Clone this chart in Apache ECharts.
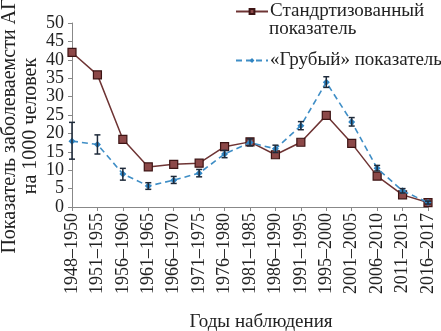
<!DOCTYPE html>
<html>
<head>
<meta charset="utf-8">
<script src="https://cdn.jsdelivr.net/npm/echarts@6/dist/echarts.min.js"></script>
<style>
  html, body { margin: 0; padding: 0; background: #fff; }
  #chart { width: 441px; height: 331px; }
</style>
</head>
<body>
<div id="chart"></div>
<script>
var periods = ['1948–1950', '1951–1955', '1956–1960', '1961–1965', '1966–1970',
    '1971–1975', '1976–1980', '1981–1985', '1986–1990', '1991–1995',
    '1995–2000', '2001–2005', '2006–2010', '2011–2015', '2016–2017'];

var standardized = [42.0, 35.9, 18.4, 10.9, 11.6, 11.9, 16.4, 17.7, 14.2, 17.6, 24.9, 17.3, 8.4, 3.3, 1.2];
var crude = [17.9, 17.0, 9.0, 5.7, 7.3, 9.2, 14.4, 17.5, 15.8, 22.1, 33.9, 23.1, 10.5, 4.4, 1.2];
var crudeLow = [13.0, 14.4, 7.3, 4.8, 6.4, 8.2, 13.4, 16.6, 14.8, 21.0, 32.5, 22.0, 9.8, 3.8, 0.8];
var crudeHigh = [23.0, 19.6, 10.5, 6.6, 8.3, 10.2, 15.4, 18.5, 16.8, 23.2, 35.4, 24.3, 11.3, 5.0, 1.6];

var yTicks = [0, 5, 10, 15, 20, 25, 30, 35, 40, 45, 50];

var nameStd = 'Стандртизованный показатель';
var nameCrude = '«Грубый» показатель';
var yTitle = 'Показатель заболеваемсти АГ\nна 1000 человек';

var font = 'Liberation Serif';
var errData = periods.map(function (p, i) { return [i, crudeLow[i], crudeHigh[i]]; });

var chart = echarts.init(document.getElementById('chart'));

var option = {
    animation: false,
    textStyle: { fontFamily: font },
    grid: {
        left: 72,
        right: 13,
        top: 23,
        bottom: 124,
        outerBoundsMode: 'none'
    },
    legend: [{
        left: 235,
        top: 2,
        padding: 0,
        itemWidth: 32,
        itemHeight: 6,
        itemGap: 4,
        data: [nameStd],
        formatter: function () { return 'Стандртизованный'; },
        textStyle: { fontFamily: font, fontSize: 19, color: '#222', padding: [0, 0, 0, -3] }
    }, {
        left: 235,
        top: 51,
        padding: 0,
        itemWidth: 32,
        itemHeight: 6,
        data: [nameCrude],
        textStyle: { fontFamily: font, fontSize: 19, color: '#222', padding: [0, 0, 0, -3] }
    }],
    graphic: [{
        type: 'text',
        left: 269,
        top: 20,
        style: { text: 'показатель', font: '19px "Liberation Serif"', fill: '#222' }
    }, {
        // y axis title, two lines, reads bottom to top
        type: 'text',
        x: 20,
        y: 126,
        rotation: Math.PI / 2,
        style: {
            text: yTitle,
            font: '20px "Liberation Serif"',
            fill: '#222',
            align: 'center',
            verticalAlign: 'middle',
            lineHeight: 21
        }
    }],
    xAxis: {
        type: 'category',
        boundaryGap: false,
        data: periods,
        name: 'Годы наблюдения',
        nameLocation: 'middle',
        nameGap: 106,
        nameTextStyle: { fontFamily: font, fontSize: 19, color: '#222', padding: [0, 0, 0, 22] },
        axisLine: { lineStyle: { color: '#888' } },
        axisTick: { alignWithLabel: true, length: 4, lineStyle: { color: '#888' } },
        axisLabel: {
            interval: 0,
            rotate: 90,
            margin: 6,
            hideOverlap: false,
            fontFamily: font,
            fontSize: 18,
            color: '#222'
        }
    },
    yAxis: {
        type: 'value',
        min: yTicks[0],
        max: yTicks[yTicks.length - 1],
        interval: yTicks[1] - yTicks[0],
        splitLine: { show: false },
        axisLine: { show: true, lineStyle: { color: '#888' } },
        axisTick: { show: true, length: 4, lineStyle: { color: '#888' } },
        axisLabel: {
            fontFamily: font, fontSize: 18, color: '#222', margin: 8,
            showMinLabel: true, showMaxLabel: true, hideOverlap: false
        }
    },
    series: [{
        name: nameStd,
        type: 'line',
        data: standardized,
        symbol: 'rect',
        symbolSize: 8,
        lineStyle: { color: '#6e3434', width: 1.5 },
        itemStyle: { color: '#8c4848', borderColor: '#3d1414', borderWidth: 1.2 },
        z: 2
    }, {
        name: nameCrude,
        type: 'line',
        data: crude,
        symbol: 'diamond',
        symbolSize: 7,
        lineStyle: { color: '#3f8ec6', width: 1.6, type: [6, 4] },
        itemStyle: { color: '#2f84c2' },
        z: 3
    }, {
        name: 'err',
        type: 'custom',
        data: errData,
        z: 4,
        renderItem: function (params, api) {
            var x = api.value(0);
            var lo = api.coord([x, api.value(1)]);
            var hi = api.coord([x, api.value(2)]);
            var w = 3;
            var st = { stroke: '#1e2a3a', lineWidth: 1.5 };
            return {
                type: 'group',
                children: [
                    { type: 'line', shape: { x1: lo[0], y1: lo[1], x2: hi[0], y2: hi[1] }, style: st },
                    { type: 'line', shape: { x1: lo[0] - w, y1: lo[1], x2: lo[0] + w, y2: lo[1] }, style: st },
                    { type: 'line', shape: { x1: hi[0] - w, y1: hi[1], x2: hi[0] + w, y2: hi[1] }, style: st }
                ]
            };
        }
    }]
};

chart.setOption(option);
</script>
</body>
</html>
